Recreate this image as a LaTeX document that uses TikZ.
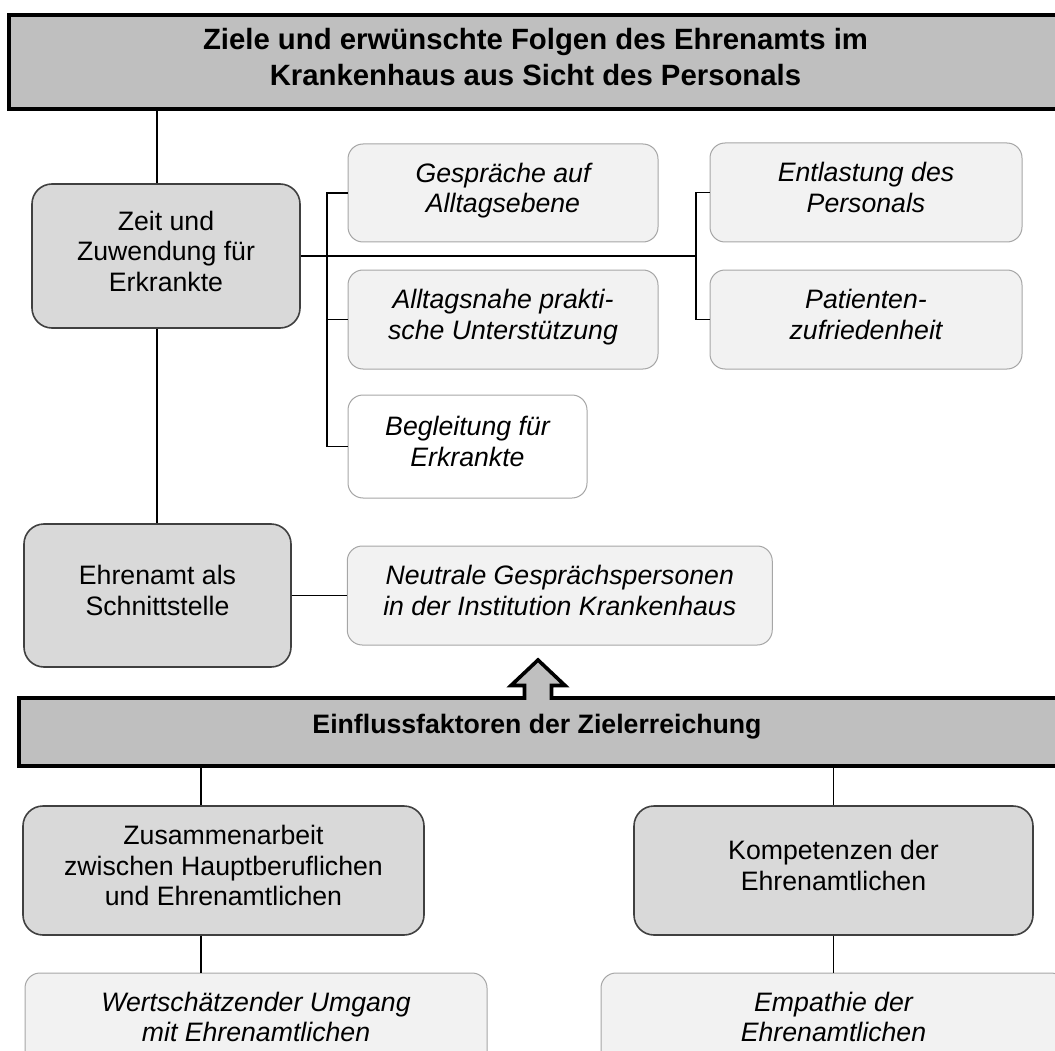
\documentclass[tikz,border=0pt]{standalone}
\usepackage{fontspec}
\setmainfont{Liberation Sans}
\definecolor{bannergray}{HTML}{BFBFBF}
\definecolor{boxgray}{HTML}{D9D9D9}
\definecolor{lightbox}{HTML}{F2F2F2}
\definecolor{bigborder}{HTML}{404040}
\definecolor{smallborder}{HTML}{A6A6A6}
\newcommand{\topstr}{\rule{0pt}{19.5pt}}
\newcommand{\botstr}{\rule[-10.5pt]{0pt}{10.5pt}}
\newcommand{\htopstr}{\rule{0pt}{22pt}}
\newcommand{\hbotstr}{\rule[-10pt]{0pt}{10pt}}
\begin{document}
\begin{tikzpicture}[x=1pt,y=-1pt,
  mainbox/.style={draw=bigborder, line width=1.6pt, fill=boxgray, rounded corners=20pt, align=center, inner sep=0pt, font=\fontsize{26.67}{30.5}\selectfont},
  subbox/.style={draw=smallborder, line width=1pt, fill=lightbox, rounded corners=15pt, align=center, inner sep=0pt, font=\fontsize{26.67}{30.5}\selectfont\itshape},
  conn/.style={draw=black, line width=1.3pt},
  banner/.style={draw=black, line width=3.6pt, fill=bannergray, miter limit=10},
  bannertext/.style={align=center, inner sep=0pt}
]
\useasboundingbox (0,0) rectangle (1055,1051);
\clip (0,0) rectangle (1055,1051);

% top banner
\node[banner, rectangle, minimum width=1066pt, minimum height=94pt, inner sep=0pt] (banner1) at (542,62) {};
\node[bannertext, font=\fontsize{29.33}{36}\selectfont\bfseries] (title) at (535.5,62)
  {\htopstr Ziele und erwünschte Folgen des Ehrenamts im\\Krankenhaus aus Sicht des Personals\hbotstr};

% upper boxes
\node[mainbox, minimum width=268pt, minimum height=144pt] (zeit) at (166,256)
  {\topstr Zeit und\\Zuwendung für\\Erkrankte\botstr};
\node[subbox, minimum width=310pt, minimum height=98pt] (gespr) at (503,193)
  {\topstr Gespräche auf\\Alltagsebene\botstr};
\node[subbox, minimum width=310pt, minimum height=99pt] (allt) at (503,319.5)
  {\topstr Alltagsnahe prakti-\\sche Unterstützung\botstr};
\node[subbox, fill=white, minimum width=239pt, minimum height=103pt] (begl) at (467.5,446.5)
  {\topstr Begleitung für\\Erkrankte\botstr};
\node[subbox, minimum width=312pt, minimum height=99pt] (entl) at (866,192.5)
  {\topstr Entlastung des\\Personals\botstr};
\node[subbox, minimum width=312pt, minimum height=99pt] (pat) at (866,319.5)
  {\topstr Patienten-\\zufriedenheit\botstr};
\node[mainbox, minimum width=267pt, minimum height=143pt] (ehren) at (157.5,595.5)
  {\topstr Ehrenamt als\\Schnittstelle\botstr};
\node[subbox, minimum width=425pt, minimum height=99pt] (neutr) at (559.75,595.5)
  {\topstr Neutrale Gesprächspersonen\\in der Institution Krankenhaus\botstr};

% lower banner with up arrow
\path[banner] (19,698) -- (524.5,698) -- (524.5,685.5) -- (511,685.5) -- (538,660)
  -- (565,685.5) -- (551.5,685.5) -- (551.5,698) -- (1075,698) -- (1075,766)
  -- (19,766) -- cycle;
\node[bannertext, minimum width=1040pt, minimum height=68pt] (banner2) at (537,732) {};
\node[bannertext, font=\fontsize{26.67}{30.5}\selectfont\bfseries] (factors) at (537,728.5)
  {\topstr Einflussfaktoren der Zielerreichung\botstr};

% lower boxes
\node[mainbox, minimum width=401pt, minimum height=129pt] (zus) at (223.5,870.5)
  {\topstr Zusammenarbeit\\zwischen Hauptberuflichen\\und Ehrenamtlichen\botstr};
\node[mainbox, minimum width=399pt, minimum height=129pt] (komp) at (833.5,870.5)
  {\topstr Kompetenzen der\\Ehrenamtlichen\botstr};
\node[subbox, minimum width=462pt, minimum height=98pt] (wert) at (256,1022)
  {\topstr Wertschätzender Umgang\\mit Ehrenamtlichen\botstr};
\node[subbox, minimum width=465pt, minimum height=98pt] (emp) at (833.5,1022)
  {\topstr Empathie der\\Ehrenamtlichen\botstr};

% column coordinates
\coordinate (xa) at (157,0);
\coordinate (xb) at (327,0);
\coordinate (xc) at (696,0);
\coordinate (xd) at (201,0);

% connectors
\draw[conn] (banner1.south -| xa) -- (zeit.north -| xa);
\draw[conn] (zeit.south -| xa) -- (ehren.north -| xa);
\draw[conn] (zeit.east) -- (zeit.east -| xc);
\draw[conn] (gespr.west) -- (gespr.west -| xb) -- (begl.west -| xb) -- (begl.west);
\draw[conn] (allt.west -| xb) -- (allt.west);
\draw[conn] (entl.west) -- (entl.west -| xc) -- (pat.west -| xc) -- (pat.west);
\draw[conn] (ehren.east) -- (neutr.west);
\draw[conn] (banner2.south -| xd) -- (zus.north -| xd);
\draw[conn] (zus.south -| xd) -- (wert.north -| xd);
\draw[conn] (banner2.south -| komp) -- (komp.north);
\draw[conn] (komp.south) -- (emp.north -| komp);
\end{tikzpicture}
\end{document}
